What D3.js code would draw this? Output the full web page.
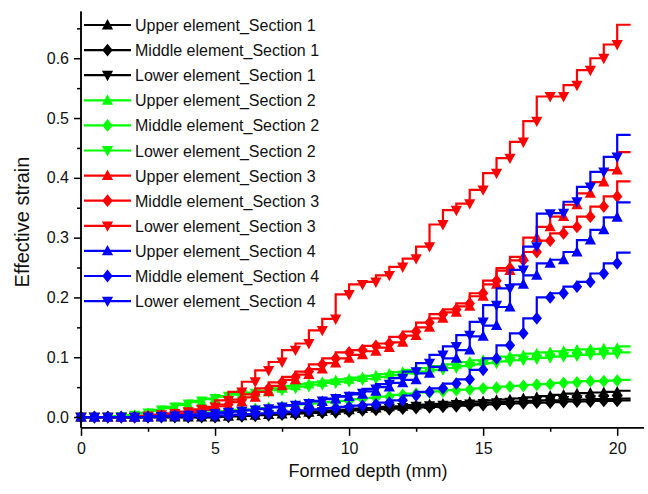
<!DOCTYPE html>
<html>
<head>
<meta charset="utf-8">
<script src="https://cdn.jsdelivr.net/npm/d3@7"></script>
<style>
  html, body { margin: 0; padding: 0; background: #fff; }
  svg { display: block; font-family: "Liberation Sans", Arial, sans-serif; }
</style>
</head>
<body>
<svg id="chart" width="648" height="494"></svg>
<script>
// Formed depth (mm) at each recorded step
const depth = [0,0.5,1,1.5,2,2.5,3,3.5,4,4.5,5,5.5,6,6.5,7,7.5,8,8.5,9,9.5,10,10.5,11,11.5,12,12.5,13,13.5,14,14.5,15,15.5,16,16.5,17,17.5,18,18.5,19,19.5,20,20.5];

// Effective strain per element and section
const upperSec1 = [0,0,0,0,0,0,0,0,0,0,0,0.001,0.002,0.003,0.004,0.005,0.006,0.008,0.009,0.011,0.012,0.014,0.015,0.017,0.018,0.020,0.021,0.022,0.024,0.025,0.026,0.028,0.029,0.031,0.033,0.035,0.037,0.039,0.040,0.041,0.042,0.044];
const middleSec1 = [0,0,0,0,0,0,0,0,0,0,0,0.0005,0.001,0.002,0.003,0.004,0.005,0.006,0.007,0.008,0.009,0.011,0.012,0.013,0.014,0.015,0.016,0.017,0.018,0.019,0.020,0.021,0.022,0.023,0.024,0.024,0.025,0.026,0.026,0.027,0.027,0.028];
const lowerSec1 = [0,0,0,0,0,0,0,0,0,0,0,0.001,0.002,0.003,0.004,0.005,0.006,0.008,0.009,0.010,0.012,0.013,0.014,0.015,0.016,0.018,0.019,0.020,0.021,0.022,0.023,0.024,0.025,0.026,0.027,0.028,0.028,0.029,0.029,0.030,0.030,0.031];
const upperSec2 = [0,0,0,0.001,0.003,0.006,0.010,0.015,0.020,0.025,0.030,0.034,0.038,0.041,0.044,0.048,0.052,0.055,0.058,0.061,0.063,0.066,0.069,0.072,0.075,0.079,0.082,0.085,0.088,0.092,0.095,0.098,0.101,0.103,0.106,0.108,0.110,0.112,0.113,0.114,0.115,0.118];
const middleSec2 = [0,0,0,0,0.001,0.002,0.003,0.004,0.005,0.006,0.008,0.010,0.012,0.013,0.015,0.017,0.019,0.021,0.023,0.025,0.027,0.030,0.032,0.034,0.037,0.039,0.041,0.043,0.045,0.046,0.048,0.049,0.051,0.052,0.054,0.055,0.057,0.058,0.060,0.060,0.061,0.062];
const lowerSec2 = [0,0,0,0.001,0.003,0.007,0.012,0.017,0.022,0.027,0.031,0.035,0.038,0.040,0.042,0.045,0.048,0.051,0.054,0.057,0.059,0.062,0.064,0.067,0.070,0.073,0.076,0.079,0.082,0.085,0.088,0.090,0.093,0.095,0.097,0.099,0.101,0.102,0.104,0.105,0.106,0.108];
const upperSec3 = [0,0,0,0,0,0.001,0.002,0.003,0.005,0.008,0.012,0.018,0.025,0.033,0.042,0.052,0.062,0.071,0.080,0.090,0.098,0.104,0.110,0.116,0.125,0.136,0.150,0.165,0.175,0.185,0.202,0.222,0.245,0.268,0.300,0.318,0.335,0.355,0.374,0.393,0.413,0.443];
const middleSec3 = [0,0,0,0,0,0.001,0.002,0.004,0.006,0.010,0.014,0.021,0.029,0.038,0.048,0.058,0.067,0.076,0.088,0.098,0.108,0.112,0.119,0.123,0.134,0.143,0.158,0.172,0.180,0.190,0.207,0.228,0.249,0.262,0.276,0.295,0.307,0.318,0.335,0.352,0.369,0.394];
const lowerSec3 = [0,0,0,0,0,0.002,0.004,0.006,0.009,0.013,0.017,0.028,0.042,0.059,0.078,0.092,0.112,0.123,0.145,0.164,0.205,0.222,0.226,0.237,0.251,0.265,0.285,0.322,0.346,0.357,0.380,0.408,0.433,0.460,0.495,0.536,0.536,0.555,0.580,0.600,0.623,0.656];
const upperSec4 = [0,0,0,0,0,0,0.001,0.002,0.003,0.004,0.005,0.007,0.009,0.011,0.013,0.016,0.019,0.022,0.026,0.030,0.034,0.038,0.043,0.050,0.057,0.062,0.073,0.084,0.098,0.112,0.135,0.153,0.184,0.222,0.237,0.257,0.263,0.276,0.296,0.313,0.334,0.359];
const middleSec4 = [0,0,0,0,0,0,0.0005,0.001,0.001,0.002,0.002,0.003,0.004,0.005,0.006,0.007,0.009,0.011,0.013,0.015,0.017,0.019,0.021,0.024,0.028,0.036,0.042,0.048,0.056,0.063,0.079,0.098,0.120,0.140,0.165,0.200,0.207,0.218,0.226,0.240,0.257,0.275];
const lowerSec4 = [0,0,0,0,0,0,0.001,0.002,0.003,0.004,0.006,0.008,0.010,0.012,0.014,0.017,0.020,0.023,0.027,0.031,0.035,0.040,0.047,0.055,0.065,0.076,0.090,0.104,0.118,0.137,0.159,0.187,0.215,0.246,0.285,0.340,0.341,0.360,0.385,0.410,0.435,0.472];

// Legend names, colours and marker kinds, in drawing order
const seriesNames = [
  "Upper element_Section 1", "Middle element_Section 1", "Lower element_Section 1",
  "Upper element_Section 2", "Middle element_Section 2", "Lower element_Section 2",
  "Upper element_Section 3", "Middle element_Section 3", "Lower element_Section 3",
  "Upper element_Section 4", "Middle element_Section 4", "Lower element_Section 4"
];
const seriesValues = [upperSec1, middleSec1, lowerSec1, upperSec2, middleSec2, lowerSec2,
                      upperSec3, middleSec3, lowerSec3, upperSec4, middleSec4, lowerSec4];
const seriesColors = ["#000000","#000000","#000000","#00ff00","#00ff00","#00ff00",
                      "#ff0000","#ff0000","#ff0000","#0000ff","#0000ff","#0000ff"];
const seriesMarkers = ["up","diamond","down","up","diamond","down","up","diamond","down","up","diamond","down"];

const xTicks = [0, 5, 10, 15, 20];
const yTicks = [0, 0.1, 0.2, 0.3, 0.4, 0.5, 0.6];

const svg = d3.select("#chart");

const x = d3.scaleLinear().domain([0, 21]).range([81, 644]);
const y = d3.scaleLinear().domain([-0.018, 0.678]).range([427.8, 11.6]);

// Marker outlines centred on the data point
const markerPath = {
  up:      "M0,-6L5.6,4.4L-5.6,4.4Z",
  down:    "M0,6L5.6,-4.4L-5.6,-4.4Z",
  diamond: "M0,-6.4L5.2,0L0,6.4L-5.2,0Z"
};

// Series: stepped line plus markers at each recorded step except the final one
const line = d3.line()
  .x(d => x(d[0]))
  .y(d => y(d[1]))
  .curve(d3.curveStepBefore);

seriesValues.forEach((vals, i) => {
  const pts = depth.map((d, k) => [d, vals[k]]);
  const g = svg.append("g").attr("class", "series");
  g.append("path")
    .attr("d", line(pts))
    .attr("fill", "none")
    .attr("stroke", seriesColors[i])
    .attr("stroke-width", 2.2)
    .attr("stroke-linejoin", "miter");
  g.selectAll("path.mk")
    .data(pts.slice(0, pts.length - 1))
    .join("path")
    .attr("class", "mk")
    .attr("transform", d => `translate(${x(d[0])},${y(d[1])})`)
    .attr("d", markerPath[seriesMarkers[i]])
    .attr("fill", seriesColors[i]);
});

// Axes (left and bottom only, outward ticks)
const yMinor = [0.05, 0.15, 0.25, 0.35, 0.45, 0.55, 0.65];
const xMinor = [2.5, 7.5, 12.5, 17.5];

const yAxisG = svg.append("g").attr("transform", "translate(81,0)");
yAxisG.call(d3.axisLeft(y).tickValues(yTicks).tickFormat(d3.format(".1f")).tickSize(7).tickPadding(5));
yAxisG.append("g").call(d3.axisLeft(y).tickValues(yMinor).tickFormat("").tickSize(4));
yAxisG.selectAll(".domain").attr("d", `M0,${y.range()[0]}V${y.range()[1]}`);

const xAxisG = svg.append("g").attr("transform", `translate(0,${y.range()[0]})`);
xAxisG.call(d3.axisBottom(x).tickValues(xTicks).tickFormat(d3.format("d")).tickSize(8).tickPadding(7));
xAxisG.append("g").call(d3.axisBottom(x).tickValues(xMinor).tickFormat("").tickSize(4));
xAxisG.selectAll(".domain").attr("d", `M${x.range()[0]},0H${x.range()[1]}`);

svg.selectAll(".domain").attr("stroke", "#000").attr("stroke-width", 1.5);
svg.selectAll(".tick line").attr("stroke", "#000").attr("stroke-width", 1.5);
svg.selectAll(".tick text").attr("font-size", 16).attr("fill", "#111")
  .attr("font-family", "'Liberation Sans', Arial, sans-serif");

// Axis titles
svg.append("text")
  .attr("x", 368).attr("y", 477)
  .attr("text-anchor", "middle")
  .attr("font-size", 18)
  .attr("fill", "#111")
  .text("Formed depth (mm)");

svg.append("text")
  .attr("transform", "translate(29,222) rotate(-90)")
  .attr("text-anchor", "middle")
  .attr("font-size", 20)
  .attr("fill", "#111")
  .text("Effective strain");

// Legend
const legend = svg.append("g");
seriesNames.forEach((name, i) => {
  const cy = 25 + i * 25.1;
  legend.append("line")
    .attr("x1", 84).attr("x2", 131).attr("y1", cy).attr("y2", cy)
    .attr("stroke", seriesColors[i]).attr("stroke-width", 2.2);
  legend.append("path")
    .attr("transform", `translate(107.5,${cy})`)
    .attr("d", markerPath[seriesMarkers[i]])
    .attr("fill", seriesColors[i]);
  legend.append("text")
    .attr("x", 135).attr("y", cy + 6)
    .attr("font-size", 16)
    .attr("fill", "#111")
    .text(name);
});
</script>
</body>
</html>
